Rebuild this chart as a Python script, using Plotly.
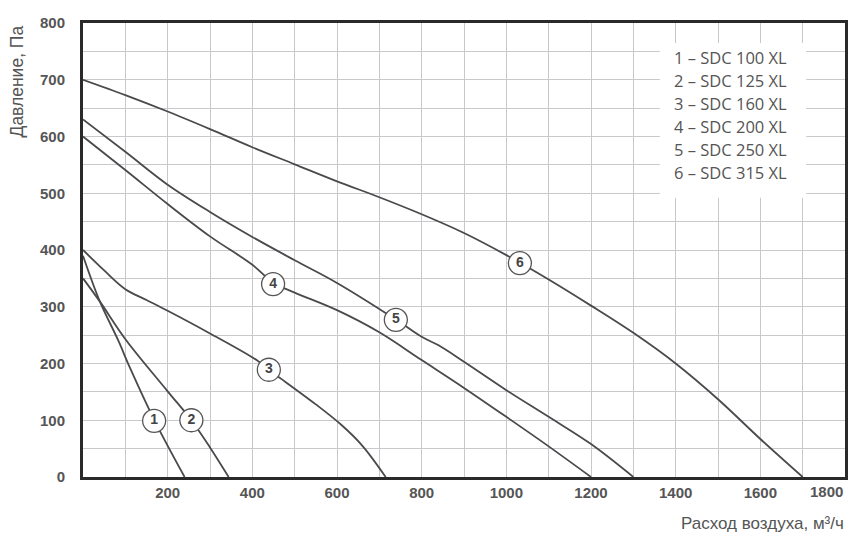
import plotly.graph_objects as go

# fan curves: airflow (m3/h) vs pressure (Pa)
x1 = [0, 40, 83, 110, 170, 240]
y1 = [390, 309, 241, 194, 98, 0]

x2 = [0, 40, 102, 200, 256, 300, 344]
y2 = [350, 309, 241, 151, 100, 52, 0]

x3 = [0, 50, 100, 150, 200, 300, 410, 440, 470, 550, 610, 660, 715]
y3 = [400, 364, 331, 312, 293, 253, 206, 188, 172, 128, 92, 55, 0]

x4 = [0, 100, 200, 300, 400, 450, 500, 600, 700, 800, 900, 1000, 1100, 1200]
y4 = [600, 541, 481, 424, 374, 342, 325, 294, 255, 206, 157, 106, 54, 0]

x5 = [0, 100, 200, 300, 400, 500, 600, 740, 800, 840, 900, 1000, 1100, 1200, 1300]
y5 = [630, 573, 515, 467, 423, 382, 342, 277, 247, 232, 203, 153, 106, 58, 0]

x6 = [0, 100, 200, 300, 400, 500, 600, 700, 800, 900, 1000, 1100, 1200, 1300, 1400, 1500, 1600, 1700]
y6 = [700, 673, 644, 613, 581, 551, 521, 493, 463, 430, 391, 348, 302, 254, 200, 137, 67, 0]

# numbered circles sitting on the curves
label_nums = ["1", "2", "3", "4", "5", "6"]
label_x = [168, 256, 439, 449, 739, 1032]
label_y = [99, 100, 189, 340, 277, 377]

legend_lines = [
    "1 – SDC 100 XL",
    "2 – SDC 125 XL",
    "3 – SDC 160 XL",
    "4 – SDC 200 XL",
    "5 – SDC 250 XL",
    "6 – SDC 315 XL",
]

# grid every 100 on x / 50 on y, labels only on the round ones
x_tickvals = list(range(100, 1900, 100))
x_ticktext = ["", "200", "", "400", "", "600", "", "800", "", "1000",
              "", "1200", "", "1400", "", "1600", "", "1800"]
y_tickvals = list(range(0, 850, 50))
y_ticktext = ["0", "", "100", "", "200", "", "300", "", "400", "",
              "500", "", "600", "", "700", "", "800"]

LINE = "#4a4a4c"
TEXT = "#555555"
GRID = "#c9c9cd"
FRAME = "#2a2a2a"

fig = go.Figure()
for xs, ys in [(x1, y1), (x2, y2), (x3, y3), (x4, y4), (x5, y5), (x6, y6)]:
    fig.add_trace(go.Scatter(
        x=xs, y=ys, mode="lines",
        line=dict(color=LINE, width=1.8, shape="spline", smoothing=1.0),
        showlegend=False, hoverinfo="skip",
    ))

fig.add_trace(go.Scatter(
    x=label_x, y=label_y, mode="markers+text",
    text=label_nums, textposition="middle center",
    textfont=dict(family="Liberation Sans", size=14, color="#444444", weight="bold"),
    marker=dict(size=23, color="white", line=dict(color="#555555", width=1.3)),
    showlegend=False, hoverinfo="skip",
))

# page has an 8px body margin, so the figure is a bit smaller than the window
fig.update_layout(
    width=844, height=528,
    paper_bgcolor="white", plot_bgcolor="white",
    margin=dict(l=75, r=7, t=15, b=59),
    font=dict(family="Liberation Sans", color=TEXT),
)

# last x label hugs the frame on the left side of its tick, so it goes in as an annotation
x_labels_shown = x_ticktext[:-1] + [""]

fig.update_xaxes(
    range=[0, 1800], tickvals=x_tickvals, ticktext=x_labels_shown,
    showgrid=True, gridcolor=GRID, gridwidth=1,
    showline=True, linecolor=FRAME, linewidth=3, mirror=True,
    ticks="", tickfont=dict(size=15, color=TEXT, weight="bold"),
    zeroline=False, automargin=False,
)
fig.update_yaxes(
    range=[0, 800], tickvals=y_tickvals, ticktext=y_ticktext,
    showgrid=True, gridcolor=GRID, gridwidth=1,
    showline=True, linecolor=FRAME, linewidth=3, mirror=True,
    ticks="outside", ticklen=12, tickcolor="rgba(0,0,0,0)",
    tickfont=dict(size=15, color=TEXT, weight="bold"),
    zeroline=False, automargin=False,
)

fig.add_annotation(
    text=x_ticktext[-1], xref="x", yref="paper", x=x_tickvals[-1], y=-0.008,
    xanchor="right", yanchor="top", showarrow=False,
    font=dict(size=15, color=TEXT, weight="bold"),
)

# axis titles sit off-centre in the original, so annotations
fig.add_annotation(
    text="Давление, Па", xref="paper", yref="paper", x=-0.086, y=1.0,
    xanchor="center", yanchor="top", textangle=-90, showarrow=False,
    font=dict(size=17.5, color=TEXT),
)
fig.add_annotation(
    text="Расход воздуха, м³/ч", xref="paper", yref="paper", x=1.0, y=-0.103,
    xanchor="right", yanchor="middle", showarrow=False, borderpad=0,
    font=dict(size=17, color=TEXT),
)

# legend box
fig.add_shape(
    type="rect", xref="paper", yref="paper",
    x0=0.757, x1=0.949, y0=0.615, y1=0.956,
    fillcolor="white", line=dict(width=0), layer="above",
)
for i, t in enumerate(legend_lines):
    fig.add_annotation(
        text=t, xref="paper", yref="paper", x=0.773, y=0.923 - i * 0.0505,
        xanchor="left", yanchor="middle", showarrow=False,
        font=dict(family="Open Sans", size=16.5, color=TEXT),
    )

fig.write_html("out.html")
